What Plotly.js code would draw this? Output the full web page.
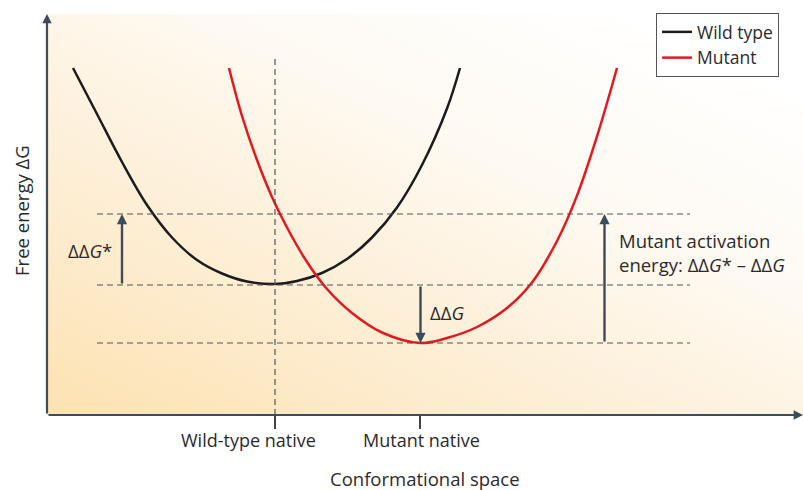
<!DOCTYPE html>
<html>
<head>
<meta charset="utf-8">
<script src="https://cdn.plot.ly/plotly-3.0.1.min.js"></script>
<style>html,body{margin:0;padding:0;background:#fff;}#chart{width:803px;height:490px;}</style>
</head>
<body>
<div id="chart"></div>
<script>
// Wild-type free-energy curve (conformational coordinate, free energy; arbitrary units)
const wtX = [2.6, 5.0, 7.5, 10.0, 12.5, 15.0, 17.5, 20.0, 22.8, 25.0, 27.5, 30.0, 32.5, 35.0, 37.5, 40.0, 41.3];
const wtY = [34.7, 30.1, 25.3, 21.0, 17.75, 15.5, 14.15, 13.35, 13.1, 13.4, 14.2, 15.6, 17.75, 20.75, 25.0, 30.65, 34.7];
// Mutant free-energy curve
const mutX = [18.2, 19.5, 21.0, 22.5, 24.0, 26.0, 28.0, 30.5, 33.5, 37.3, 40.0, 43.0, 46.0, 48.5, 51.0, 53.0, 55.0, 57.0];
const mutY = [34.7, 29.9, 25.5, 21.8, 18.75, 15.3, 12.6, 10.2, 8.25, 7.2, 7.7, 8.8, 10.7, 13.25, 17.4, 21.94, 27.86, 34.7];
// Reference energy levels: active-state barrier, wild-type native, mutant native
const levelActive = 20.1;
const levelWT = 13.0;
const levelMut = 7.2;
// Conformations
const activeConfX = 22.8;
const tickVals = [22.8, 37.3];
const tickText = ['Wild-type native', 'Mutant native'];
const seriesNames = ['Wild type', 'Mutant'];

const FONT = '"Open Sans", "Noto Sans", sans-serif';
const TXT = '#2b2b2b';
const ARW = '#3b4d5a';
const XMAX = 75.6, YMAX = 40.1;
const tickLabelShift = [-2.7, 0.1];

const svg = '<svg xmlns="http://www.w3.org/2000/svg" width="756" height="401" preserveAspectRatio="none">' +
  '<defs><linearGradient id="g" x1="0" y1="1" x2="0.85" y2="0.05">' +
  '<stop offset="0" stop-color="#fde2b2"/>' +
  '<stop offset="0.35" stop-color="#fdeed4"/>' +
  '<stop offset="0.7" stop-color="#fefaf3"/>' +
  '<stop offset="1" stop-color="#ffffff"/>' +
  '</linearGradient></defs><rect width="756" height="401" fill="url(#g)"/></svg>';
const bgSrc = 'data:image/svg+xml;charset=utf-8,' + encodeURIComponent(svg);

const traces = [
  {x: wtX, y: wtY, mode: 'lines', name: seriesNames[0], line: {color: '#1c1c1c', width: 2.5, shape: 'spline', smoothing: 1}},
  {x: mutX, y: mutY, mode: 'lines', name: seriesNames[1], line: {color: '#e3191f', width: 2.5, shape: 'spline', smoothing: 1}}
];

const dashLine = (y) => ({type: 'line', xref: 'x', yref: 'y', x0: 5.0, x1: 64.3, y0: y, y1: y,
  line: {color: '#555', width: 1.2, dash: '6px,4px'}, layer: 'above'});

const shapes = [
  dashLine(levelActive), dashLine(levelWT), dashLine(levelMut),
  {type: 'line', xref: 'x', yref: 'y', x0: activeConfX, x1: activeConfX, y0: 0, y1: 35.8,
   line: {color: '#555', width: 1.2, dash: '6px,4px'}, layer: 'above'}
];

const arrow = (x, y0, y1) => ({x: x, y: y1, ax: x, ay: y0, xref: 'x', yref: 'y', axref: 'x', ayref: 'y',
  text: '', showarrow: true, arrowhead: 2, arrowsize: 0.85, arrowwidth: 2.4, arrowcolor: ARW});

const annotations = [
  // axes
  {x: XMAX, y: 0, ax: 0, ay: 0, xref: 'x', yref: 'y', axref: 'x', ayref: 'y', text: '', showarrow: true,
   arrowhead: 2, arrowsize: 0.85, arrowwidth: 2.2, arrowcolor: ARW},
  {x: 0, y: YMAX, ax: 0, ay: 0, xref: 'x', yref: 'y', axref: 'x', ayref: 'y', text: '', showarrow: true,
   arrowhead: 2, arrowsize: 0.85, arrowwidth: 2.2, arrowcolor: ARW},
  // energy arrows
  arrow(7.5, levelWT, levelActive),
  arrow(37.35, levelWT, levelMut),
  arrow(55.75, levelMut, levelActive),
  // labels
  {x: 18.3, y: 40.6, xref: 'x', yref: 'y', xanchor: 'left', yanchor: 'top', align: 'left', showarrow: false,
   text: 'Active<br>conformation', font: {family: FONT, size: 18.5, color: TXT}},
  {x: 6.7, y: 16.5, xref: 'x', yref: 'y', xanchor: 'right', yanchor: 'middle', showarrow: false,
   text: 'ΔΔ<i>G</i>*', font: {family: FONT, size: 18.5, color: TXT}},
  {x: 38.1, y: 10.3, xref: 'x', yref: 'y', xanchor: 'left', yanchor: 'middle', showarrow: false,
   text: 'ΔΔ<i>G</i>', font: {family: FONT, size: 18.5, color: TXT}},
  {x: 57.0, y: 16.3, xref: 'x', yref: 'y', xanchor: 'left', yanchor: 'middle', align: 'left', showarrow: false,
   text: 'Mutant activation<br>energy: ΔΔ<i>G</i>* – ΔΔ<i>G</i>', font: {family: FONT, size: 18.5, color: TXT}},
  {x: -0.033, y: 0.509, xref: 'paper', yref: 'paper', xanchor: 'center', yanchor: 'middle', textangle: -90, showarrow: false,
   text: 'Free energy ΔG', font: {family: FONT, size: 18.5, color: TXT}},
  {x: 0.5, y: -0.158, xref: 'paper', yref: 'paper', xanchor: 'center', yanchor: 'middle', showarrow: false,
   text: 'Conformational space', font: {family: FONT, size: 18.5, color: TXT}}
];
// tick labels, placed under their ticks
tickVals.forEach((v, i) => annotations.push({x: v + tickLabelShift[i], y: -0.0623, xref: 'x', yref: 'paper',
  xanchor: 'center', yanchor: 'middle', showarrow: false, text: tickText[i], font: {family: FONT, size: 18, color: TXT}}));

const layout = {
  width: 803, height: 490,
  margin: {l: 47, r: 0, t: 14, b: 75, pad: 0},
  paper_bgcolor: '#ffffff', plot_bgcolor: 'rgba(0,0,0,0)',
  font: {family: FONT, size: 16, color: TXT},
  showlegend: true,
  legend: {x: 0.8056, y: 1.0025, xanchor: 'left', yanchor: 'top', bgcolor: '#ffffff', bordercolor: '#555',
    borderwidth: 1, itemwidth: 30, font: {family: FONT, size: 17.5, color: TXT}, tracegroupgap: 0},
  xaxis: {range: [0, XMAX], showgrid: false, zeroline: false, showline: false,
    tickmode: 'array', tickvals: tickVals, showticklabels: false, ticks: 'outside', ticklen: 13, tickwidth: 1.2,
    tickcolor: '#444', fixedrange: true},
  yaxis: {range: [0, YMAX], showgrid: false, zeroline: false, showline: false, showticklabels: false,
    ticks: '', fixedrange: true},
  images: [{source: bgSrc, xref: 'paper', yref: 'paper', x: 0, y: 1, sizex: 1, sizey: 1,
    sizing: 'stretch', xanchor: 'left', yanchor: 'top', layer: 'below'}],
  shapes: shapes,
  annotations: annotations
};

Plotly.newPlot('chart', traces, layout, {displayModeBar: false, staticPlot: true});
</script>
</body>
</html>
